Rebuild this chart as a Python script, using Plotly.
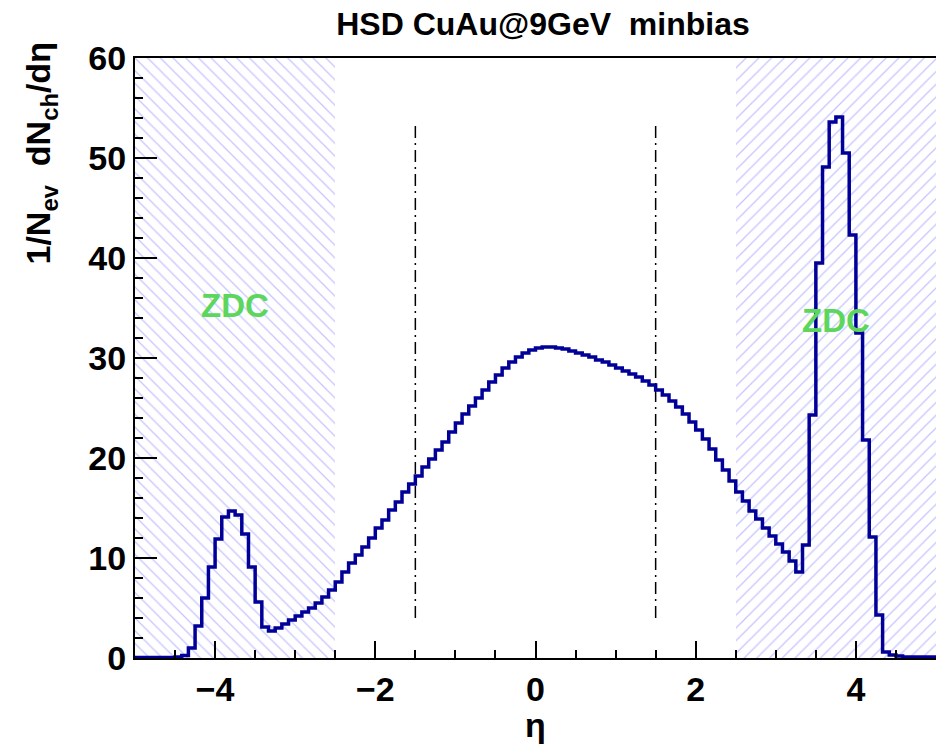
import numpy as np
import plotly.graph_objects as go

# histogram: 120 bins of width 1/12 over -5 .. 5
ETA_MIN, ETA_MAX, N_BINS = -5.0, 5.0, 120
DNDETA = [
    0.05, 0.05, 0.05, 0.05, 0.05, 0.05, 0.1, 0.25, 1.0, 3.2,
    6.0, 9.1, 11.9, 14.1, 14.7, 14.3, 12.4, 9.1, 5.6, 3.1,
    2.7, 3.0, 3.4, 3.8, 4.2, 4.6, 5.0, 5.5, 6.1, 6.8,
    7.6, 8.6, 9.5, 10.3, 11.1, 12.0, 13.0, 13.8, 14.8, 15.6,
    16.6, 17.4, 18.2, 19.1, 19.9, 20.8, 21.6, 22.6, 23.5, 24.4,
    25.2, 26.0, 26.8, 27.6, 28.3, 29.0, 29.6, 30.1, 30.5, 30.8,
    31.0, 31.1, 31.1, 31.0, 30.9, 30.7, 30.5, 30.3, 30.1, 29.8,
    29.6, 29.3, 29.0, 28.7, 28.4, 28.1, 27.7, 27.3, 26.8, 26.3,
    25.7, 25.1, 24.4, 23.6, 22.8, 21.9, 20.9, 19.8, 18.8, 17.7,
    16.6, 15.7, 14.7, 13.9, 13.0, 12.2, 11.4, 10.6, 9.7, 8.6,
    11.3, 24.3, 39.5, 49.1, 53.6, 54.1, 50.5, 42.3, 32.5, 21.8,
    12.1, 4.3, 0.6, 0.3, 0.2, 0.1, 0.1, 0.1, 0.1, 0.1,
]

ZDC_RANGES = [(-5.0, -2.5), (2.5, 5.0)]
ZDC_HATCH = ["\\", "/"]
ZDC_LABEL_POS = [(-3.75, 35.3), (3.75, 33.8)]

CUT_ETA = [-1.5, 1.5]
CUT_Y = [4.0, 53.6]

TITLE = "HSD CuAu@9GeV  minbias"
FONT = "Liberation Sans, Arial, sans-serif"
HIST_BLUE = "#000099"
HATCH_BLUE = "#8c8cff"
ZDC_GREEN = "#5cd65c"

W, H = 936, 744

edges = np.linspace(ETA_MIN, ETA_MAX, N_BINS + 1)
yvals = list(DNDETA) + [DNDETA[-1]]

fig = go.Figure()

for (lo, hi), shp in zip(ZDC_RANGES, ZDC_HATCH):
    fig.add_trace(go.Bar(
        x=[(lo + hi) / 2], y=[60], width=[hi - lo],
        marker=dict(color="white", line=dict(width=0),
                    pattern=dict(shape=shp, fgcolor=HATCH_BLUE, bgcolor="white",
                                 size=9, solidity=0.14)),
        showlegend=False, hoverinfo="skip",
    ))

for xc in CUT_ETA:
    fig.add_trace(go.Scatter(
        x=[xc, xc], y=CUT_Y, mode="lines",
        line=dict(color="black", width=1.5, dash="12px,5px,2px,5px"),
        showlegend=False, hoverinfo="skip",
    ))

fig.add_trace(go.Scatter(
    x=edges, y=yvals, mode="lines", line_shape="hv",
    line=dict(color=HIST_BLUE, width=3.5), showlegend=False,
))

for xl, yl in ZDC_LABEL_POS:
    fig.add_annotation(x=xl, y=yl, text="<b>ZDC</b>", showarrow=False,
                       font=dict(family=FONT, size=33, color=ZDC_GREEN))

fig.add_annotation(
    xref="paper", yref="paper", x=-0.118, y=1.03, xanchor="center", yanchor="top",
    text="1/N<sub>ev</sub>  dN<sub>ch</sub>/dη", textangle=-90, showarrow=False,
    font=dict(family=FONT, size=34, color="black", weight="bold"),
)

fig.update_layout(
    width=W, height=H,
    margin=dict(l=135, r=0, t=58, b=86),
    paper_bgcolor="white", plot_bgcolor="white",
    font=dict(family=FONT, color="black", weight="bold"),
    title=dict(text=TITLE, x=543 / W, xanchor="center", y=1 - 24 / H, yanchor="middle",
               font=dict(family=FONT, size=32, color="black", weight="bold")),
    bargap=0,
    xaxis=dict(
        range=[ETA_MIN, ETA_MAX], showgrid=False, zeroline=False,
        showline=True, linecolor="black", linewidth=2, mirror=True,
        ticks="inside", ticklen=17, tickwidth=1.5, tickcolor="black",
        tickvals=[-4, -2, 0, 2, 4], tickfont=dict(size=34),
        minor=dict(dtick=0.5, ticks="inside", ticklen=8, tickwidth=1.5, tickcolor="black"),
        title=dict(text="η", font=dict(size=34), standoff=6),
    ),
    yaxis=dict(
        range=[0, 60], showgrid=False, zeroline=False,
        showline=True, linecolor="black", linewidth=2,
        ticks="inside", ticklen=22, tickwidth=1.5, tickcolor="black",
        dtick=10, tickfont=dict(size=34),
        minor=dict(dtick=2, ticks="inside", ticklen=8, tickwidth=1.5, tickcolor="black"),
    ),
)

# drop the default page margin so the 936x744 figure fills the window exactly
fig.write_html("out.html", config={"displayModeBar": False},
               post_script="document.body.style.margin='0';document.body.style.overflow='hidden';")
